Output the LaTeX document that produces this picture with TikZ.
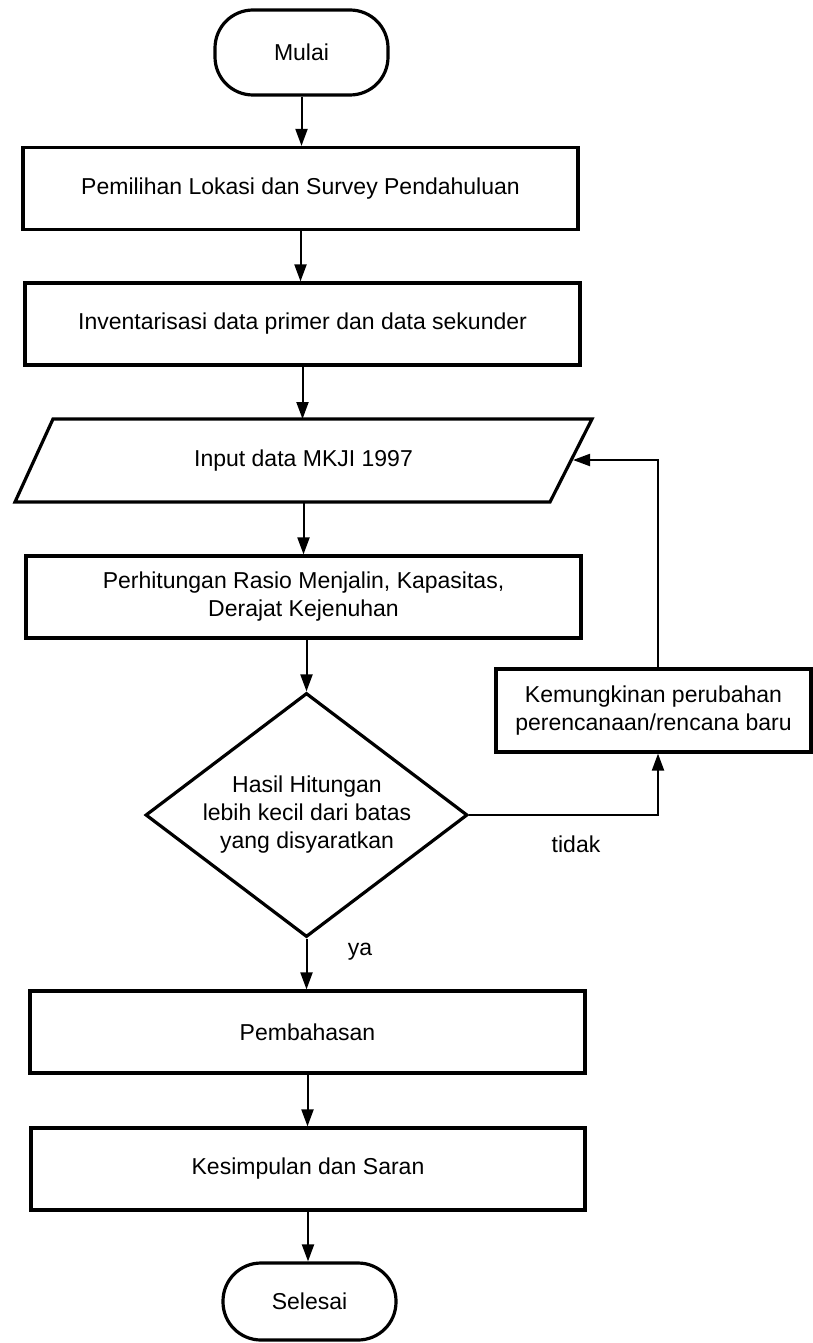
\documentclass[tikz,border=0pt]{standalone}
\usepackage{fontspec}
\setmainfont{Liberation Sans}
\usetikzlibrary{shapes.geometric,arrows.meta}
\begin{document}
\begin{tikzpicture}[x=1pt,y=-1pt,
  every node/.style={font=\fontsize{23}{28}\selectfont, inner sep=0pt},
  procbox/.style={draw, line width=3.2pt, minimum width=555pt, minimum height=82pt, align=center},
  termbox/.style={draw, line width=3.2pt, rounded corners=38pt, minimum width=173pt, minimum height=85pt},
  decbox/.style={draw, diamond, line width=3.2pt, minimum width=322pt, minimum height=244pt},
  arr/.style={line width=2pt, -{Triangle[length=17pt,width=12pt]}},
  ln/.style={line width=2pt}]
\useasboundingbox (0,0) rectangle (813,1343);

\node[termbox] (mulai) at (301.5,52.5) {Mulai};
\node[procbox] (b1) at (300.5,188.5) {Pemilihan Lokasi dan Survey Pendahuluan};
\node[procbox] (b2) at (302.5,324) {Inventarisasi data primer dan data sekunder};

\draw[line width=3.2pt] (53,419) -- (592,419) -- (550,502) -- (15,502) -- cycle;
\node (inp) at (303.5,460.5) {Input data MKJI 1997};
\coordinate (inT) at (302.5,419);
\coordinate (inB) at (303.5,502);
\coordinate (inR) at (573,460);

\node[procbox] (b3) at (303.5,597) {Perhitungan Rasio Menjalin, Kapasitas,\\Derajat Kejenuhan};
\node[decbox] (dec) at (306.5,815) {};
\node[align=center] (dect) at (307,815) {Hasil Hitungan\\lebih kecil dari batas\\yang disyaratkan};
\node[procbox, minimum width=315pt, minimum height=83pt] (kem) at (653.5,710.5) {Kemungkinan perubahan\\perencanaan/rencana baru};
\node[procbox] (b4) at (307.5,1032) {Pembahasan};
\node[procbox, minimum width=554pt] (b5) at (308,1169) {Kesimpulan dan Saran};
\node[termbox, minimum height=77pt] (sel) at (309.5,1301.5) {Selesai};

\coordinate (kemB) at ([xshift=4.5pt]kem.south);
\coordinate (kemT) at ([xshift=4.5pt]kem.north);

\draw[arr] (mulai.south) -- (mulai.south |- b1.north);
\draw[arr] (b1.south) -- (b1.south |- b2.north);
\draw[arr] (b2.south) -- (inT);
\draw[arr] (inB) -- (inB |- b3.north);
\draw[arr] (dec.north |- b3.south) -- (dec.north);
\draw[arr] (dec.south) -- (dec.south |- b4.north);
\draw[arr] (b4.south) -- (b4.south |- b5.north);
\draw[arr] (b5.south) -- (b5.south |- sel.north);
\draw[arr] (dec.east) -- (kemB |- dec.east) -- (kemB);
\draw[arr] (kemT) -- (kemT |- inR) -- (inR);

\node (tidak) at (576,844) {tidak};
\node (ya) at (360,952) {ya};
\end{tikzpicture}
\end{document}
